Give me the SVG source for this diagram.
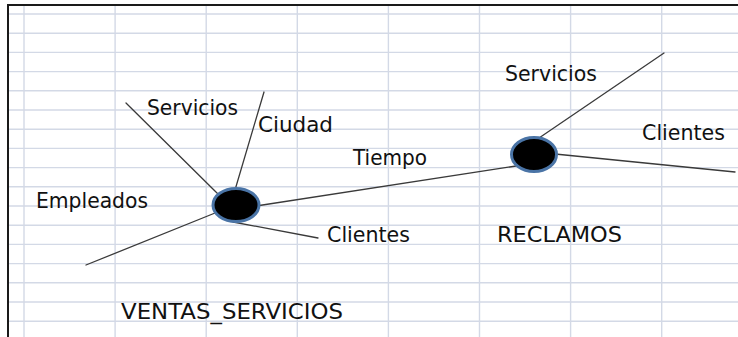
<svg xmlns="http://www.w3.org/2000/svg" width="738" height="337" viewBox="0 0 738 337">
<style>
.grid line{stroke:#d3d9e6;stroke-width:1.4}
.border{stroke:#1a1a1a;stroke-width:2;fill:none}
.conn line{stroke:#3a3a3a;stroke-width:1.3;stroke-linecap:round}
.node ellipse{fill:#000;stroke:#4a74a6;stroke-width:3}
text{font-family:"DejaVu Sans","Liberation Sans",Arial,sans-serif;font-size:20.5px;fill:#111}
</style>
<rect width="738" height="337" fill="#fff"/>
<g class="grid">
<line x1="8" y1="14" x2="738" y2="14"/>
<line x1="8" y1="33.2" x2="738" y2="33.2"/>
<line x1="8" y1="52.4" x2="738" y2="52.4"/>
<line x1="8" y1="71.6" x2="738" y2="71.6"/>
<line x1="8" y1="90.8" x2="738" y2="90.8"/>
<line x1="8" y1="110" x2="738" y2="110"/>
<line x1="8" y1="129.2" x2="738" y2="129.2"/>
<line x1="8" y1="148.4" x2="738" y2="148.4"/>
<line x1="8" y1="167.6" x2="738" y2="167.6"/>
<line x1="8" y1="186.8" x2="738" y2="186.8"/>
<line x1="8" y1="206" x2="738" y2="206"/>
<line x1="8" y1="225.2" x2="738" y2="225.2"/>
<line x1="8" y1="244.4" x2="738" y2="244.4"/>
<line x1="8" y1="263.6" x2="738" y2="263.6"/>
<line x1="8" y1="282.8" x2="738" y2="282.8"/>
<line x1="8" y1="302" x2="738" y2="302"/>
<line x1="8" y1="321.2" x2="738" y2="321.2"/>
<line x1="24" y1="5" x2="24" y2="337"/>
<line x1="115.1" y1="5" x2="115.1" y2="337"/>
<line x1="206.2" y1="5" x2="206.2" y2="337"/>
<line x1="297.3" y1="5" x2="297.3" y2="337"/>
<line x1="388.4" y1="5" x2="388.4" y2="337"/>
<line x1="479.5" y1="5" x2="479.5" y2="337"/>
<line x1="570.6" y1="5" x2="570.6" y2="337"/>
<line x1="661.7" y1="5" x2="661.7" y2="337"/>
</g>
<path class="border" d="M8,337 V5 H738"/>
<g id="connectors" class="conn">
<line x1="86" y1="265" x2="220" y2="211"/>
<line x1="126" y1="103" x2="219" y2="195"/>
<line x1="264" y1="92" x2="235" y2="190"/>
<line x1="233" y1="222" x2="318" y2="238"/>
<line x1="256" y1="206" x2="516" y2="166"/>
<line x1="539" y1="138" x2="664" y2="53"/>
<line x1="555" y1="154" x2="735" y2="172"/>
</g>
<g id="node-ventas" class="node">
<ellipse cx="236" cy="205" rx="23" ry="16.5"/>
<text x="121" y="319" textLength="222" lengthAdjust="spacingAndGlyphs">VENTAS_SERVICIOS</text>
</g>
<g id="node-reclamos" class="node">
<ellipse cx="534" cy="154.5" rx="22.5" ry="17"/>
<text x="497" y="242" textLength="125" lengthAdjust="spacingAndGlyphs">RECLAMOS</text>
</g>
<g id="label-empleados"><text x="36" y="208" textLength="112" lengthAdjust="spacingAndGlyphs">Empleados</text></g>
<g id="label-servicios-1"><text x="147" y="115" textLength="91" lengthAdjust="spacingAndGlyphs">Servicios</text></g>
<g id="label-ciudad"><text x="258" y="132" textLength="75" lengthAdjust="spacingAndGlyphs">Ciudad</text></g>
<g id="label-clientes-1"><text x="327" y="242" textLength="83" lengthAdjust="spacingAndGlyphs">Clientes</text></g>
<g id="label-tiempo"><text x="353" y="165" textLength="74" lengthAdjust="spacingAndGlyphs">Tiempo</text></g>
<g id="label-servicios-2"><text x="505" y="81" textLength="92" lengthAdjust="spacingAndGlyphs">Servicios</text></g>
<g id="label-clientes-2"><text x="642" y="140" textLength="83" lengthAdjust="spacingAndGlyphs">Clientes</text></g>
</svg>
